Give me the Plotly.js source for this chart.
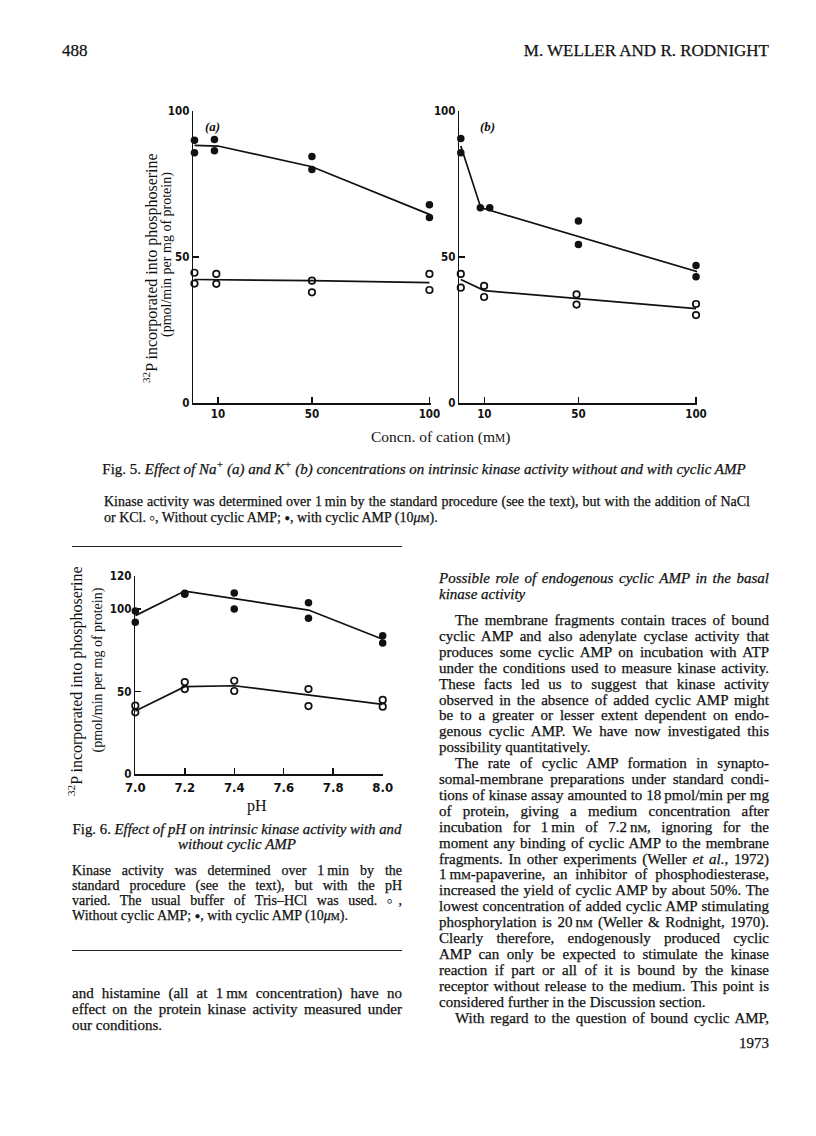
<!DOCTYPE html>
<html><head><meta charset="utf-8">
<script src="https://cdn.plot.ly/plotly-3.0.1.min.js"></script>
<style>
html,body{margin:0;padding:0;background:#fff;}
#page{position:relative;width:816px;height:1136px;overflow:hidden;background:#fff;font-family:"Liberation Serif","Times New Roman",serif;color:#111;}
#plot{position:absolute;left:0;top:0;width:816px;height:1136px;}
.ln{position:absolute;white-space:nowrap;font-size:15px;line-height:16px;height:16px;-webkit-text-stroke:0.25px #111;}
.lg{font-size:14px;}
.j{text-align:justify;text-align-last:justify;}
.c{text-align:center;}
.r{text-align:right;}
.sym{font-size:0.65em;vertical-align:1px;}
.sc{font-size:0.72em;}
sup{font-size:0.68em;line-height:0;}
.rule{position:absolute;height:0;border-top:1.4px solid #222;}
</style></head>
<body><div id="page"><div id="plot"></div></div>
<script>
// ---------------- data ----------------
// Fig. 5(a): Na+ concentration (mM)
const naFilledX = [0, 0, 8.5, 8.5, 50, 50, 100, 100];
const naFilledY = [90.0, 85.7, 90.2, 86.4, 84.4, 80.0, 67.9, 63.5];
const naOpenX   = [0, 0, 9.3, 9.3, 50, 50, 100, 100];
const naOpenY   = [44.6, 40.9, 44.2, 40.8, 41.9, 37.9, 44.2, 38.7];
const naFilledLineX = [0, 10, 50, 100];
const naFilledLineY = [88.2, 88.0, 80.9, 64.6];
const naOpenLineX = [0, 50, 100];
const naOpenLineY = [42.3, 41.9, 41.2];
// Fig. 5(b): K+ concentration (mM)
const kFilledX = [0, 0, 8.3, 12.3, 50, 50, 100, 100];
const kFilledY = [90.6, 85.7, 66.9, 66.9, 62.3, 54.3, 47.1, 43.2];
const kOpenX   = [0, 0, 9.9, 9.9, 49.2, 49.2, 100, 100];
const kOpenY   = [44.2, 39.5, 40.1, 36.3, 37.2, 33.7, 33.9, 30.1];
const kFilledLineX = [0, 8.5, 102];
const kFilledLineY = [88.0, 66.9, 44.6];
const kOpenLineX = [0, 10, 100];
const kOpenLineY = [42.3, 38.5, 32.3];
// Fig. 6: pH
const phFilledX = [7.0, 7.0, 7.2, 7.2, 7.4, 7.4, 7.7, 7.7, 8.0, 8.0];
const phFilledY = [98.8, 92.0, 109.5, 109.0, 109.7, 100.0, 103.8, 94.4, 83.9, 79.4];
const phOpenX   = [7.0, 7.0, 7.2, 7.2, 7.4, 7.4, 7.7, 7.7, 8.0, 8.0];
const phOpenY   = [41.5, 37.5, 55.8, 51.6, 56.6, 50.4, 51.6, 41.3, 45.0, 40.9];
const phFilledLineX = [7.0, 7.2, 7.7, 8.0];
const phFilledLineY = [96.0, 110.9, 99.4, 81.7];
const phOpenLineX = [7.0, 7.2, 7.4, 8.0];
const phOpenLineY = [38.3, 53.0, 53.6, 42.3];
// ticks
const concTicks = [10, 50, 100];
const concTickText = ['10', '50', '100'];
const act5Ticks = [0, 50, 100];
const act5TickText = ['0', '50', '100'];
const phTicks = [7.0, 7.2, 7.4, 7.6, 7.8, 8.0];
const phTickText = ['7.0', '7.2', '7.4', '7.6', '7.8', '8.0'];
const act6Ticks = [0, 50, 100, 120];
const act6TickText = ['0', '50', '100', '120'];

// ---------------- plot ----------------
const W = 816, H = 1136;
const fx = p => p / W, fy = p => 1 - p / H;
const INK = '#111111';
const tickFont = {family: "'Liberation Sans Narrow','DejaVu Sans Condensed','Liberation Sans',sans-serif", size: 11.5, color: INK, weight: 'bold'};
const ax = extra => Object.assign({
  showline: true, linecolor: INK, linewidth: 1.6, ticks: 'inside', ticklen: 6, tickwidth: 1.5,
  tickcolor: INK, showgrid: false, zeroline: false, tickfont: tickFont, fixedrange: true, tickmode: 'array'
}, extra);

function lineTrace(x, y, xa, ya) {
  return {x, y, xaxis: xa, yaxis: ya, mode: 'lines', line: {color: INK, width: 1.7}, hoverinfo: 'skip', cliponaxis: false};
}
function ptTrace(x, y, xa, ya, filled) {
  return {x, y, xaxis: xa, yaxis: ya, mode: 'markers', cliponaxis: false, hoverinfo: 'skip',
    marker: filled ? {symbol: 'circle', size: 7.5, color: INK, line: {width: 0}}
                   : {symbol: 'circle-open', size: 6.5, color: INK, line: {width: 1.7, color: INK}}};
}

const traces = [
  lineTrace(naFilledLineX, naFilledLineY, 'x', 'y'),
  lineTrace(naOpenLineX, naOpenLineY, 'x', 'y'),
  ptTrace(naFilledX, naFilledY, 'x', 'y', true),
  ptTrace(naOpenX, naOpenY, 'x', 'y', false),
  lineTrace(kFilledLineX, kFilledLineY, 'x2', 'y2'),
  lineTrace(kOpenLineX, kOpenLineY, 'x2', 'y2'),
  ptTrace(kFilledX, kFilledY, 'x2', 'y2', true),
  ptTrace(kOpenX, kOpenY, 'x2', 'y2', false),
  lineTrace(phFilledLineX, phFilledLineY, 'x3', 'y3'),
  lineTrace(phOpenLineX, phOpenLineY, 'x3', 'y3'),
  ptTrace(phFilledX, phFilledY, 'x3', 'y3', true),
  ptTrace(phOpenX, phOpenY, 'x3', 'y3', false)
];

const serif = "'Liberation Serif','Times New Roman',serif";
function ann(text, px, py, size, extra) {
  return Object.assign({text, x: fx(px), y: fy(py), xref: 'paper', yref: 'paper', showarrow: false,
    xanchor: 'center', yanchor: 'middle', font: {family: serif, size, color: INK}}, extra || {});
}

const layout = {
  width: W, height: H, margin: {l: 0, r: 0, t: 0, b: 0},
  paper_bgcolor: 'rgba(0,0,0,0)', plot_bgcolor: 'rgba(0,0,0,0)', showlegend: false,
  xaxis: ax({domain: [fx(193.3), fx(430.6)], range: [-0.5, 100.5], anchor: 'y', tickvals: concTicks, ticktext: concTickText}),
  yaxis: ax({domain: [fy(403), fy(111)], range: [0, 100], anchor: 'x', tickvals: act5Ticks, ticktext: act5TickText}),
  xaxis2: ax({domain: [fx(459.4), fx(697.2)], range: [-0.6, 100.5], anchor: 'y2', tickvals: concTicks, ticktext: concTickText}),
  yaxis2: ax({domain: [fy(403), fy(111)], range: [0, 100], anchor: 'x2', tickvals: act5Ticks, ticktext: act5TickText}),
  xaxis3: ax({domain: [fx(135.3), fx(382.7)], range: [7.0, 8.0], anchor: 'y3', tickvals: phTicks, ticktext: phTickText, tickfont: Object.assign({}, tickFont, {size: 13})}),
  yaxis3: ax({domain: [fy(774.3), fy(576)], range: [0, 120], anchor: 'x3', tickvals: act6Ticks, ticktext: act6TickText}),
  annotations: [
    ann('<b><i>(a)</i></b>', 212, 126, 13),
    ann('<b><i>(b)</i></b>', 487, 126, 13),
    ann("Concn. of cation (m<span style='font-size:11.5px'>M</span>)", 440, 437, 15.5),
    ann('<sup>32</sup>P incorporated into phosphoserine', 150, 268, 16, {textangle: -90}),
    ann('(pmol/min per mg of protein)', 167, 255, 14, {textangle: -90}),
    ann('<sup>32</sup>P incorporated into phosphoserine', 75, 681, 16, {textangle: -90}),
    ann('(pmol/min per mg of protein)', 97.5, 670, 14, {textangle: -90}),
    ann('pH', 257, 806, 16)
  ]
};

Plotly.newPlot('plot', traces, layout, {staticPlot: true, displayModeBar: false});

// ---------------- page text ----------------
const page = document.getElementById('page');
const LC = 72, RC = 439, CW = 330, IND = 16;
const LGX = 104, LGW = 646;   // measure of the Fig. 5 legend
function add(html, x, y, w, cls, extra) {
  const d = document.createElement('div');
  d.className = 'ln ' + (cls || '');
  d.style.left = x + 'px'; d.style.top = (y - 8) + 'px'; d.style.width = w + 'px';
  if (extra) Object.assign(d.style, extra);
  d.innerHTML = html;
  page.appendChild(d);
  return d;
}
function rule(x, y, w) {
  const d = document.createElement('div');
  d.className = 'rule'; d.style.left = x + 'px'; d.style.top = y + 'px'; d.style.width = w + 'px';
  page.appendChild(d);
}
const O = '<span class="sym">&#9675;</span>', F = '<span class="sym">&#9679;</span>';
const uM = '<i>&mu;</i><span class="sc">M</span>', nM = 'n<span class="sc">M</span>', mM = 'm<span class="sc">M</span>';

// header
add('488', 62, 50, 100, '', {fontSize: '17px', lineHeight: '18px'});
add('M. WELLER AND R. RODNIGHT', RC + CW - 330, 50, 330, 'r', {fontSize: '17px', lineHeight: '18px'});

// Fig. 5 legend
add('Fig. 5. <i>Effect of Na<sup>+</sup> (a) and K<sup>+</sup> (b) concentrations on intrinsic kinase activity without and with cyclic AMP</i>', 84, 469, 680, 'c');
add('Kinase activity was determined over 1&#8201;min by the standard procedure (see the text), but with the addition of NaCl', LGX, 502, LGW, 'j lg');
add('or KCl. ' + O + ', Without cyclic AMP; ' + F + ', with cyclic AMP (10' + uM + ').', LGX, 518, LGW, 'lg');
rule(LC, 546, CW);

// Fig. 6 legend (left column)
add('Fig. 6. <i>Effect of pH on intrinsic kinase activity with and</i>', LC, 829, CW, 'c');
add('<i>without cyclic AMP</i>', LC, 844, CW, 'c');
const fig6Lines = [
  'Kinase activity was determined over 1&#8201;min by the',
  'standard procedure (see the text), but with the pH',
  'varied. The usual buffer of Tris&ndash;HCl was used. ' + O + ',',
  'Without cyclic AMP; ' + F + ', with cyclic AMP (10' + uM + ').'
];
fig6Lines.forEach((t, i) => add(t, LC, 871 + i * 15, CW, (i < fig6Lines.length - 1 ? 'j ' : '') + 'lg'));
rule(LC, 950, CW);
const leftEnd = [
  'and histamine (all at 1&#8201;' + mM + ' concentration) have no',
  'effect on the protein kinase activity measured under',
  'our conditions.'
];
leftEnd.forEach((t, i) => add(t, LC, 993 + i * 15.9, CW, i < leftEnd.length - 1 ? 'j' : ''));

// right column
add('<i>Possible role of endogenous cyclic AMP in the basal</i>', RC, 578, CW, 'j');
add('<i>kinase activity</i>', RC, 594, CW, '');
const rightLines = [
  ['The membrane fragments contain traces of bound', 1, 0],
  ['cyclic AMP and also adenylate cyclase activity that', 0, 0],
  ['produces some cyclic AMP on incubation with ATP', 0, 0],
  ['under the conditions used to measure kinase activity.', 0, 0],
  ['These facts led us to suggest that kinase activity', 0, 0],
  ['observed in the absence of added cyclic AMP might', 0, 0],
  ['be to a greater or lesser extent dependent on endo-', 0, 0],
  ['genous cyclic AMP. We have now investigated this', 0, 0],
  ['possibility quantitatively.', 0, 1],
  ['The rate of cyclic AMP formation in synapto-', 1, 0],
  ['somal-membrane preparations under standard condi-', 0, 0],
  ['tions of kinase assay amounted to 18&#8201;pmol/min per mg', 0, 0],
  ['of protein, giving a medium concentration after', 0, 0],
  ['incubation for 1&#8201;min of 7.2&#8201;' + nM + ', ignoring for the', 0, 0],
  ['moment any binding of cyclic AMP to the membrane', 0, 0],
  ['fragments. In other experiments (Weller <i>et al.</i>, 1972)', 0, 0],
  ['1&#8201;' + mM + '-papaverine, an inhibitor of phosphodiesterase,', 0, 0],
  ['increased the yield of cyclic AMP by about 50%. The', 0, 0],
  ['lowest concentration of added cyclic AMP stimulating', 0, 0],
  ['phosphorylation is 20&#8201;' + nM + ' (Weller &amp; Rodnight, 1970).', 0, 0],
  ['Clearly therefore, endogenously produced cyclic', 0, 0],
  ['AMP can only be expected to stimulate the kinase', 0, 0],
  ['reaction if part or all of it is bound by the kinase', 0, 0],
  ['receptor without release to the medium. This point is', 0, 0],
  ['considered further in the Discussion section.', 0, 1],
  ['With regard to the question of bound cyclic AMP,', 1, 0]
];
rightLines.forEach((l, i) => {
  const ind = l[1] ? IND : 0;
  add(l[0], RC + ind, 620 + i * 15.9, CW - ind, l[2] ? '' : 'j');
});
add('1973', RC + CW - 100, 1043, 100, 'r');

// shrink any line that does not fit its measure
function fit() {
  document.querySelectorAll('.ln').forEach(el => {
    let fs = parseFloat(getComputedStyle(el).fontSize);
    let n = 0;
    while (el.scrollWidth > el.clientWidth + 0.5 && n < 40) {
      fs -= 0.1; el.style.fontSize = fs + 'px'; n++;
    }
  });
}
if (document.fonts && document.fonts.ready) document.fonts.ready.then(fit); else fit();
fit();
</script>
</body></html>
